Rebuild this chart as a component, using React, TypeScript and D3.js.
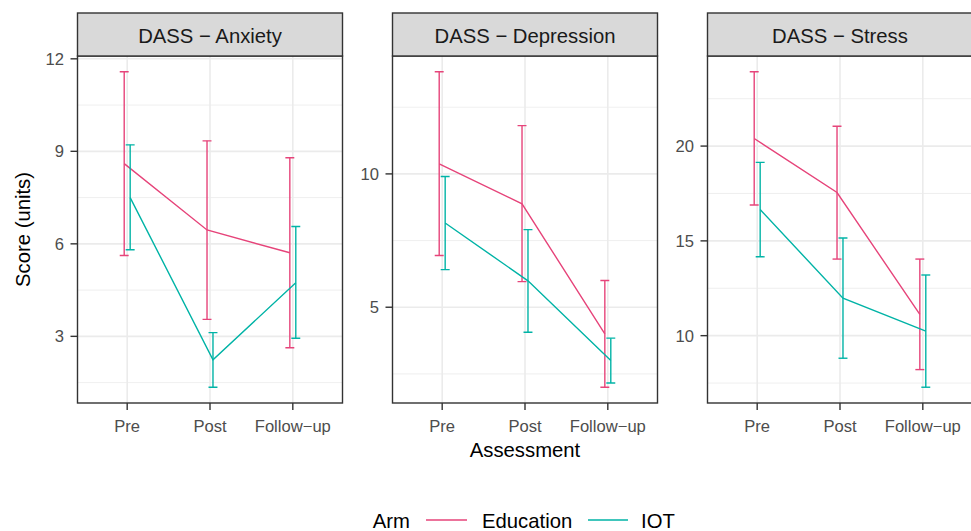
import React from "react";
import * as d3 from "d3";

// ---------- data ----------
const assessments = ["Pre", "Post", "Follow\u2212up"];
const measures = ["DASS \u2212 Anxiety", "DASS \u2212 Depression", "DASS \u2212 Stress"];
const arms = ["Education", "IOT"];

const anxietyEduMean = [8.6, 6.45, 5.71];
const anxietyEduLower = [5.62, 3.55, 2.63];
const anxietyEduUpper = [11.58, 9.34, 8.79];
const anxietyIotMean = [7.5, 2.24, 4.74];
const anxietyIotLower = [5.81, 1.35, 2.94];
const anxietyIotUpper = [9.21, 3.12, 6.56];

const depressionEduMean = [10.38, 8.88, 4.0];
const depressionEduLower = [6.94, 5.96, 2.0];
const depressionEduUpper = [13.83, 11.81, 6.0];
const depressionIotMean = [8.16, 5.99, 3.0];
const depressionIotLower = [6.41, 4.06, 2.16];
const depressionIotUpper = [9.9, 7.91, 3.84];

const stressEduMean = [20.4, 17.55, 11.12];
const stressEduLower = [16.89, 14.04, 8.21];
const stressEduUpper = [23.92, 21.05, 14.04];
const stressIotMean = [16.65, 11.98, 10.24];
const stressIotLower = [14.16, 8.81, 7.28];
const stressIotUpper = [19.14, 15.15, 13.2];

const anxietyTicks = [3, 6, 9, 12];
const depressionTicks = [5, 10];
const stressTicks = [10, 15, 20];
const anxietyMinor = [1.5, 4.5, 7.5, 10.5];
const depressionMinor = [2.5, 7.5, 12.5];
const stressMinor = [7.5, 12.5, 17.5, 22.5];

// ---------- styling / layout ----------
const W = 971;
const H = 531;
const FONT = "'Liberation Sans', Arial, Helvetica, sans-serif";
const armColors = ["#E6447A", "#00B3A6"];
const panelLeft = 77.5;
const panelGap = 50;
const panelW = 265;
const stripTop = 13;
const panelTop = 56;
const panelBottom = 403;
const dodge = 0.036; // in steps
const capHalf = 0.054; // in steps

type Series = { mean: number[]; lower: number[]; upper: number[] };
type Panel = { title: string; ticks: number[]; minor: number[]; series: Series[] };

const panels: Panel[] = [
  {
    title: measures[0],
    ticks: anxietyTicks,
    minor: anxietyMinor,
    series: [
      { mean: anxietyEduMean, lower: anxietyEduLower, upper: anxietyEduUpper },
      { mean: anxietyIotMean, lower: anxietyIotLower, upper: anxietyIotUpper },
    ],
  },
  {
    title: measures[1],
    ticks: depressionTicks,
    minor: depressionMinor,
    series: [
      { mean: depressionEduMean, lower: depressionEduLower, upper: depressionEduUpper },
      { mean: depressionIotMean, lower: depressionIotLower, upper: depressionIotUpper },
    ],
  },
  {
    title: measures[2],
    ticks: stressTicks,
    minor: stressMinor,
    series: [
      { mean: stressEduMean, lower: stressEduLower, upper: stressEduUpper },
      { mean: stressIotMean, lower: stressIotLower, upper: stressIotUpper },
    ],
  },
];

function PanelView({ p, i }: { p: Panel; i: number }) {
  const x0 = panelLeft + i * (panelW + panelGap);
  const x1 = x0 + panelW;
  const x = d3.scalePoint<string>().domain(assessments).range([x0, x1]).padding(0.6);
  const step = x.step();
  const all = p.series.flatMap((s) => [...s.lower, ...s.upper]);
  const lo = d3.min(all)!;
  const hi = d3.max(all)!;
  const r = hi - lo;
  const y = d3.scaleLinear().domain([lo - 0.05 * r, hi + 0.05 * r]).range([panelBottom, panelTop]);
  const line = d3
    .line<number>()
    .x((_, k) => x(assessments[k])!)
    .y((v) => y(v));

  return (
    <g>
      <defs>
        <clipPath id={`clip${i}`}>
          <rect x={x0} y={panelTop} width={panelW} height={panelBottom - panelTop} />
        </clipPath>
      </defs>
      <rect x={x0} y={panelTop} width={panelW} height={panelBottom - panelTop} fill="#fff" />
      <g clipPath={`url(#clip${i})`}>
        {p.minor.map((t) => (
          <line key={"mn" + t} x1={x0} x2={x1} y1={y(t)} y2={y(t)} stroke="#EBEBEB" strokeWidth={0.8} />
        ))}
        {p.ticks.map((t) => (
          <line key={"mj" + t} x1={x0} x2={x1} y1={y(t)} y2={y(t)} stroke="#EBEBEB" strokeWidth={1.6} />
        ))}
        {assessments.map((a) => (
          <line key={"vx" + a} x1={x(a)} x2={x(a)} y1={panelTop} y2={panelBottom} stroke="#EBEBEB" strokeWidth={1.6} />
        ))}
        {p.series.map((s, si) => {
          const off = (si === 0 ? -1 : 1) * dodge * step;
          const lx = d3
            .line<number>()
            .x((_, k) => x(assessments[k])! + off)
            .y((v) => y(v));
          return (
            <g key={"s" + si}>
              <path d={lx(s.mean) || ""} fill="none" stroke={armColors[si]} strokeWidth={1.4} />
              {s.mean.map((_, k) => {
                const cx = x(assessments[k])! + off;
                const cw = capHalf * step;
                return (
                  <g key={"e" + k} stroke={armColors[si]} strokeWidth={1.4} fill="none">
                    <line x1={cx} x2={cx} y1={y(s.lower[k])} y2={y(s.upper[k])} />
                    <line x1={cx - cw} x2={cx + cw} y1={y(s.lower[k])} y2={y(s.lower[k])} />
                    <line x1={cx - cw} x2={cx + cw} y1={y(s.upper[k])} y2={y(s.upper[k])} />
                  </g>
                );
              })}
            </g>
          );
        })}
      </g>
      <rect x={x0} y={panelTop} width={panelW} height={panelBottom - panelTop} fill="none" stroke="#333333" strokeWidth={1.4} />
      {/* strip */}
      <rect x={x0} y={stripTop} width={panelW} height={panelTop - stripTop} fill="#D9D9D9" stroke="#333333" strokeWidth={1.4} />
      <text x={(x0 + x1) / 2} y={43.3} textAnchor="middle" fontSize={20.3} fill="#1A1A1A" fontFamily={FONT}>
        {p.title}
      </text>
      {/* y axis */}
      {p.ticks.map((t) => (
        <g key={"yt" + t}>
          <line x1={x0 - 7} x2={x0} y1={y(t)} y2={y(t)} stroke="#333333" strokeWidth={1.4} />
          <text x={x0 - 13.5} y={y(t)} dy="0.36em" textAnchor="end" fontSize={16.6} fill="#4D4D4D" fontFamily={FONT}>
            {t}
          </text>
        </g>
      ))}
      {/* x axis */}
      {assessments.map((a) => (
        <g key={"xt" + a}>
          <line x1={x(a)} x2={x(a)} y1={panelBottom} y2={panelBottom + 7} stroke="#333333" strokeWidth={1.4} />
          <text x={x(a)} y={432} textAnchor="middle" fontSize={16.6} fill="#4D4D4D" fontFamily={FONT}>
            {a}
          </text>
        </g>
      ))}
    </g>
  );
}

export default function App() {
  const midX = (panelLeft + panelLeft + 3 * panelW + 2 * panelGap) / 2;
  const legY = 520;
  return (
    <svg
      width={W}
      height={H}
      viewBox={`0 0 ${W} ${H}`}
      style={{ position: "absolute", left: 0, top: 0, display: "block", background: "#fff" }}
    >
      <rect x={0} y={0} width={W} height={H} fill="#fff" />
      {panels.map((p, i) => (
        <PanelView key={i} p={p} i={i} />
      ))}
      <text
        transform={`translate(30,${(panelTop + panelBottom) / 2}) rotate(-90)`}
        textAnchor="middle"
        fontSize={20.3}
        fill="#000"
        fontFamily={FONT}
      >
        Score (units)
      </text>
      <text x={midX} y={457} textAnchor="middle" fontSize={20.3} fill="#000" fontFamily={FONT}>
        Assessment
      </text>
      {/* legend */}
      <text x={372.7} y={527.5} fontSize={20.3} fill="#000" fontFamily={FONT}>
        Arm
      </text>
      <line x1={426} x2={467} y1={legY} y2={legY} stroke={armColors[0]} strokeWidth={1.4} />
      <text x={482} y={527.5} fontSize={20.3} fill="#000" fontFamily={FONT}>
        {arms[0]}
      </text>
      <line x1={588} x2={628} y1={legY} y2={legY} stroke={armColors[1]} strokeWidth={1.4} />
      <text x={641} y={527.5} fontSize={20.3} fill="#000" fontFamily={FONT}>
        {arms[1]}
      </text>
    </svg>
  );
}
